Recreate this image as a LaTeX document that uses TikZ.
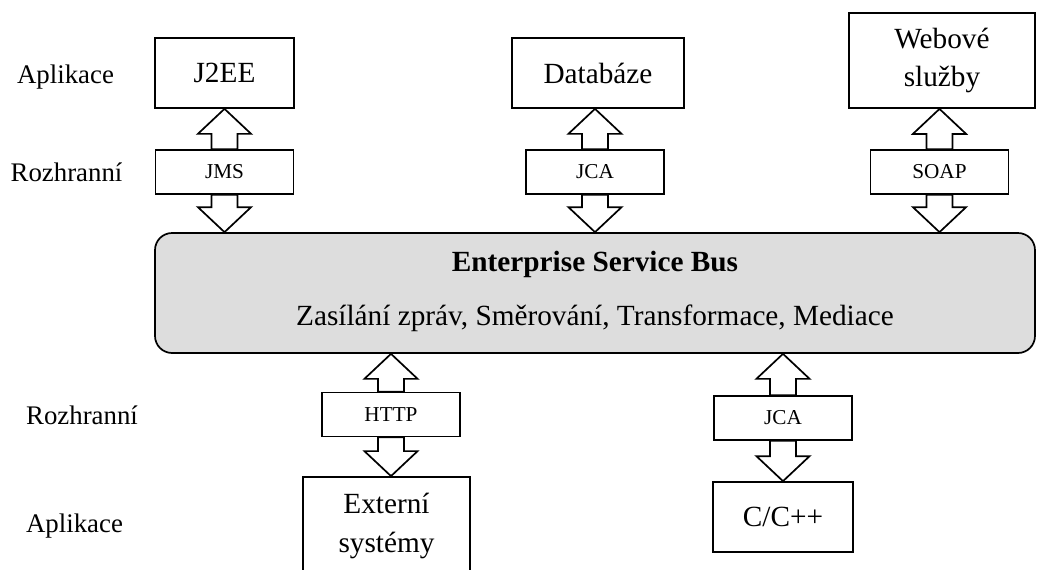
\documentclass[tikz,border=0pt]{standalone}
\usepackage{fontspec}
\setmainfont{Liberation Serif}
\usepackage{xcolor}
\usetikzlibrary{calc}

\definecolor{sbernice}{RGB}{221,221,221}

\tikzset{
  aplikace/.style={draw, line width=0.7pt, font=\fontsize{12}{15.6}\selectfont, align=center, inner sep=0pt},
  rozhrani/.style={draw, line width=0.7pt, fill=white, font=\fontsize{8.7}{10}\selectfont, minimum width=56.6pt, minimum height=18pt, inner sep=0pt},
  popisek/.style={font=\fontsize{11}{13}\selectfont, anchor=base},
  sipka/.style={line width=0.7pt, fill=white, line join=miter}
}

% blokova sipka: #1 hrot, #2 konec (svisle)
\newcommand{\blokovasipka}[2]{%
  \draw[sipka] let \p1=(#1), \p2=(#2),
      \n2={\y1+ifthenelse(\y1>\y2,-10.25pt,10.25pt)} in
    (\x1,\y1) -- (\x1-10.9pt,\n2*1pt) -- (\x1-5.3pt,\n2*1pt)
    -- (\x1-5.3pt,\y2) -- (\x1+5.3pt,\y2) -- (\x1+5.3pt,\n2*1pt)
    -- (\x1+10.9pt,\n2*1pt) -- cycle;}

\begin{document}
\begin{tikzpicture}[x=0.41pt, y=-0.41pt]
    \useasboundingbox (0,0) rectangle (1037,570);
    \clip (0,0) rectangle (1037,570);

    % 1. Popisky vrstev vlevo
    \node[popisek] (apl1) at (65.5,83) {Aplikace};
    \node[popisek] (roz1) at (66.5,181) {Rozhranní};
    \node[popisek] (roz2) at (82,424) {Rozhranní};
    \node[popisek] (apl2) at (74.5,532) {Aplikace};

    % 2. Aplikace nahore
    \node[aplikace, minimum width=57pt, minimum height=28.7pt] (j2ee) at (224.5,73) {J2EE};
    \node[aplikace, minimum width=70.5pt, minimum height=28.7pt] (db) at (598,73) {Databáze};
    \node[aplikace, minimum width=76.3pt, minimum height=39pt] (web) at (942,60.5) {Webové\\služby};

    % 3. Rozhrani
    \node[rozhrani] (jms) at (224.5,172) {JMS};
    \node[rozhrani] (jca) at (595,172) {JCA};
    \node[rozhrani] (soap) at (939.5,172) {SOAP};
    \node[rozhrani] (http) at (391,414.5) {HTTP};
    \node[rozhrani] (jcb) at (783,418) {JCA};

    % 4. Sbernice ESB
    \node[draw, line width=0.7pt, fill=sbernice, rounded corners=7pt,
          minimum width=360.8pt, minimum height=49.2pt] (esb) at (595,293) {};
    \node[anchor=base, font=\fontsize{12}{14}\selectfont\bfseries] (esbnazev) at (595,271) {Enterprise Service Bus};
    \node[anchor=base, font=\fontsize{12}{14}\selectfont] (esbfunkce) at (595,325) {Zasílání zpráv, Směrování, Transformace, Mediace};

    % 5. Aplikace dole
    \node[aplikace, minimum width=68.5pt, minimum height=40.2pt] (ext) at (386.5,526) {Externí\\systémy};
    \node[aplikace, minimum width=57.4pt, minimum height=28.7pt] (cpp) at (783,517) {C/C++};

    % 6. Sipky mezi vrstvami
    \blokovasipka{jms.north |- j2ee.south}{jms.north}
    \blokovasipka{jms.south |- esb.north}{jms.south}
    \blokovasipka{jca.north |- db.south}{jca.north}
    \blokovasipka{jca.south |- esb.north}{jca.south}
    \blokovasipka{soap.north |- web.south}{soap.north}
    \blokovasipka{soap.south |- esb.north}{soap.south}
    \blokovasipka{http.north |- esb.south}{http.north}
    \blokovasipka{http.south |- ext.north}{http.south}
    \blokovasipka{jcb.north |- esb.south}{jcb.north}
    \blokovasipka{jcb.south |- cpp.north}{jcb.south}

\end{tikzpicture}
\end{document}
